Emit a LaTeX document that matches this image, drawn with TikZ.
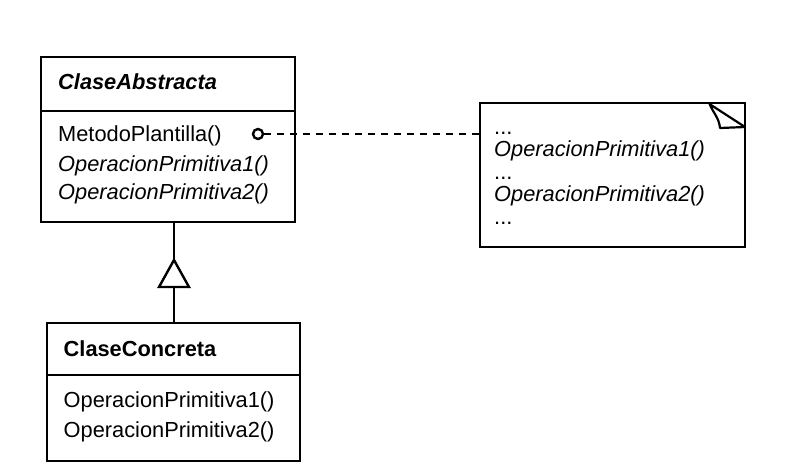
\documentclass[tikz,border=0pt]{standalone}
\usepackage{fontspec}
\setmainfont{Liberation Sans}
\begin{document}
\begin{tikzpicture}[x=1pt,y=-1pt,
  box/.style={draw, line width=2.4pt, rectangle, inner sep=0pt},
  txt/.style={anchor=base west, inner sep=0pt, font=\fontsize{21.8}{26}\selectfont},
  ln/.style={line width=2.4pt}]
\useasboundingbox (0,0) rectangle (789,476);
% boxes
\node[box, minimum width=254pt, minimum height=165pt] (abs) at (168,139.5) {};
\node[box, minimum width=253pt, minimum height=138pt] (conc) at (173.5,392) {};
\node[box, minimum width=265pt, minimum height=144pt] (note) at (612.5,175) {};
% separators
\coordinate (absSep) at (41,111);
\coordinate (concSep) at (47,375);
\draw[ln] (absSep) -- (absSep -| abs.east);
\draw[ln] (concSep) -- (concSep -| conc.east);
% abstract class texts
\node[txt, font=\fontsize{21.8}{26}\selectfont\bfseries\itshape] (absT) at (58,90) {ClaseAbstracta};
\node[txt] (absM) at (58,141.5) {MetodoPlantilla()};
\node[txt, font=\fontsize{21.8}{26}\selectfont\itshape] (absO1) at (58,171) {OperacionPrimitiva1()};
\node[txt, font=\fontsize{21.8}{26}\selectfont\itshape] (absO2) at (58,199.5) {OperacionPrimitiva2()};
% concrete class texts
\node[txt, font=\fontsize{21.8}{26}\selectfont\bfseries] (concT) at (63.5,356) {ClaseConcreta};
\node[txt] (concO1) at (63.5,407) {OperacionPrimitiva1()};
\node[txt] (concO2) at (63.5,437) {OperacionPrimitiva2()};
% note texts
\node[txt] (n1) at (494,134) {...};
\node[txt, font=\fontsize{21.8}{26}\selectfont\itshape] (n2) at (494,156.5) {OperacionPrimitiva1()};
\node[txt] (n3) at (494,179) {...};
\node[txt, font=\fontsize{21.8}{26}\selectfont\itshape] (n4) at (494,201.5) {OperacionPrimitiva2()};
\node[txt] (n5) at (494,224) {...};
% note fold
\coordinate (fa) at (709.5,104);
\coordinate (fb) at (720,128);
\coordinate (fc) at (745,127);
\draw[line width=2.2pt, line join=round] (fa) .. controls (714,114) and (719,118) .. (fb) -- (fc) -- cycle;
% circle and dashed connector
\node[draw, circle, line width=2.4pt, minimum size=10pt, inner sep=0pt, fill=white] (circ) at (258,134) {};
\draw[ln, dash pattern=on 7pt off 6pt] (circ.east) -- (circ.east -| note.west);
% inheritance
\coordinate (apex) at (174,260);
\coordinate (base) at (174,287);
\draw[ln] (apex |- abs.south) -- (apex);
\draw[ln] (base) -- (base |- conc.north);
\draw[ln, line join=miter] (apex) -- ++(15,27) -- ++(-30,0) -- cycle;
\end{tikzpicture}
\end{document}
